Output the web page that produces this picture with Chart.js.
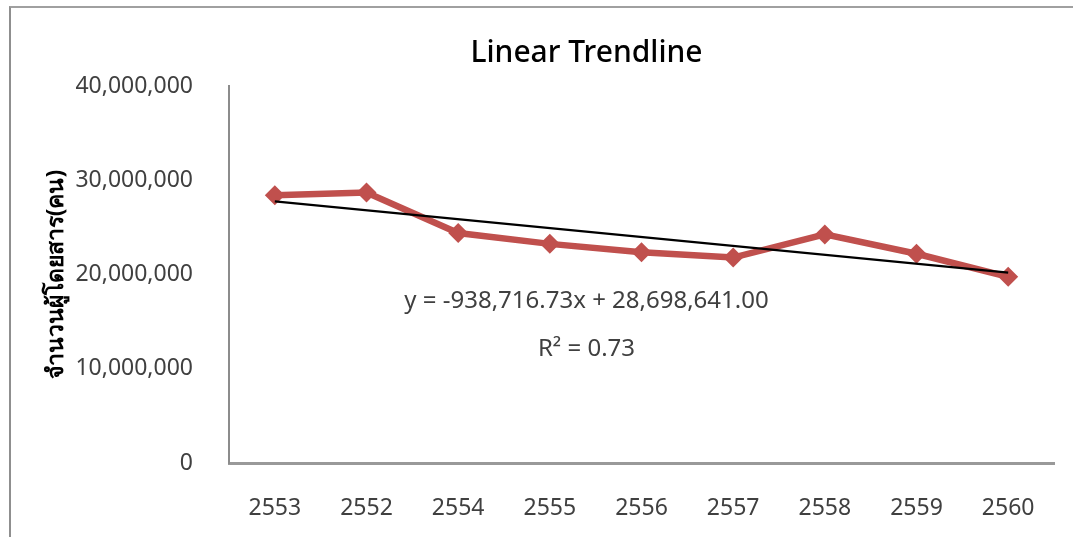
<!DOCTYPE html>
<html>
<head>
<meta charset="utf-8">
<script src="https://cdn.jsdelivr.net/npm/chart.js@4.4.1/dist/chart.umd.min.js"></script>
<style>
  html, body { margin: 0; padding: 0; background: #fff; }
  #wrap { position: relative; width: 1073px; height: 537px; }
  #frame { position: absolute; left: 9px; top: 6px; right: -2px; bottom: -2px; border-left: 2px solid #8f8f8f; border-top: 2px solid #a0a0a0; pointer-events: none; }
  canvas { position: absolute; left: 0; top: 0; }
</style>
</head>
<body>
<div id="wrap">
  <canvas id="c" width="1073" height="537"></canvas>
  <div id="frame"></div>
</div>
<script>
const categories = ['2553', '2552', '2554', '2555', '2556', '2557', '2558', '2559', '2560'];
const passengers = [28400000, 28700000, 24400000, 23250000, 22350000, 21800000, 24250000, 22200000, 19750000];
const trendStart = 27750000;
const trendEnd = 20200000;
const yTicks = [0, 10000000, 20000000, 30000000, 40000000];
const chartTitle = 'Linear Trendline';
const yTitle = 'จำนวนผู้โดยสาร(คน)';
const equationText = 'y = -938,716.73x + 28,698,641.00';
const r2Text = 'R² = 0.73';

const trendData = categories.map((_, i) => i === 0 ? trendStart : (i === categories.length - 1 ? trendEnd : null));

const FONT = "'Noto Sans', 'Open Sans', sans-serif";

const textPlugin = {
  id: 'texts',
  afterDatasetsDraw(chart) {
    const { ctx, scales } = chart;
    const x = scales.x.getPixelForValue(3.4);
    ctx.save();
    ctx.fillStyle = '#404040';
    ctx.font = "24px " + FONT;
    ctx.textAlign = 'center';
    ctx.textBaseline = 'middle';
    ctx.fillText(equationText, x, scales.y.getPixelForValue(17200000));
    ctx.fillText(r2Text, x, scales.y.getPixelForValue(12100000));
    // chart title
    ctx.fillStyle = '#000000';
    ctx.font = "500 30px " + FONT;
    ctx.fillText(chartTitle, x, 53);
    ctx.restore();
  }
};

new Chart(document.getElementById('c'), {
  type: 'line',
  data: {
    labels: categories,
    datasets: [
      {
        label: 'Linear trend',
        data: trendData,
        borderColor: '#000000',
        borderWidth: 2.2,
        pointRadius: 0,
        spanGaps: true,
        tension: 0
      },
      {
        label: 'Passengers',
        data: passengers,
        borderColor: '#C0504D',
        backgroundColor: '#C0504D',
        borderWidth: 6.5,
        pointStyle: 'rectRot',
        pointRadius: 10,
        pointHoverRadius: 10,
        pointBorderWidth: 0,
        tension: 0
      }
    ]
  },
  options: {
    responsive: false,
    animation: false,
    devicePixelRatio: 1,
    layout: { padding: { left: 0, right: 19, top: 86, bottom: 0 } },
    plugins: {
      legend: { display: false },
      tooltip: { enabled: false },
      title: { display: false }
    },
    scales: {
      x: {
        offset: true,
        grid: { display: false, drawTicks: false },
        border: { display: true, color: '#999999', width: 3 },
        ticks: {
          color: '#404040',
          font: { family: FONT, size: 23 },
          padding: 32,
          maxRotation: 0
        },
        afterFit(scale) { scale.height = 74; }
      },
      y: {
        min: 0,
        max: 40000000,
        afterBuildTicks(scale) { scale.ticks = yTicks.map(v => ({ value: v })); },
        grid: { display: false, drawTicks: false },
        border: { display: true, color: '#8c8c8c', width: 2 },
        ticks: {
          color: '#404040',
          font: { family: FONT, size: 23 },
          padding: 36,
          callback: v => Number(v).toLocaleString('en-US')
        },
        title: {
          display: true,
          text: yTitle,
          color: '#000000',
          font: { family: FONT, size: 23, weight: 'bold' },
          padding: { top: 43, bottom: 0 }
        },
        afterFit(scale) { scale.width = 229; }
      }
    }
  },
  plugins: [textPlugin]
});
</script>
</body>
</html>
